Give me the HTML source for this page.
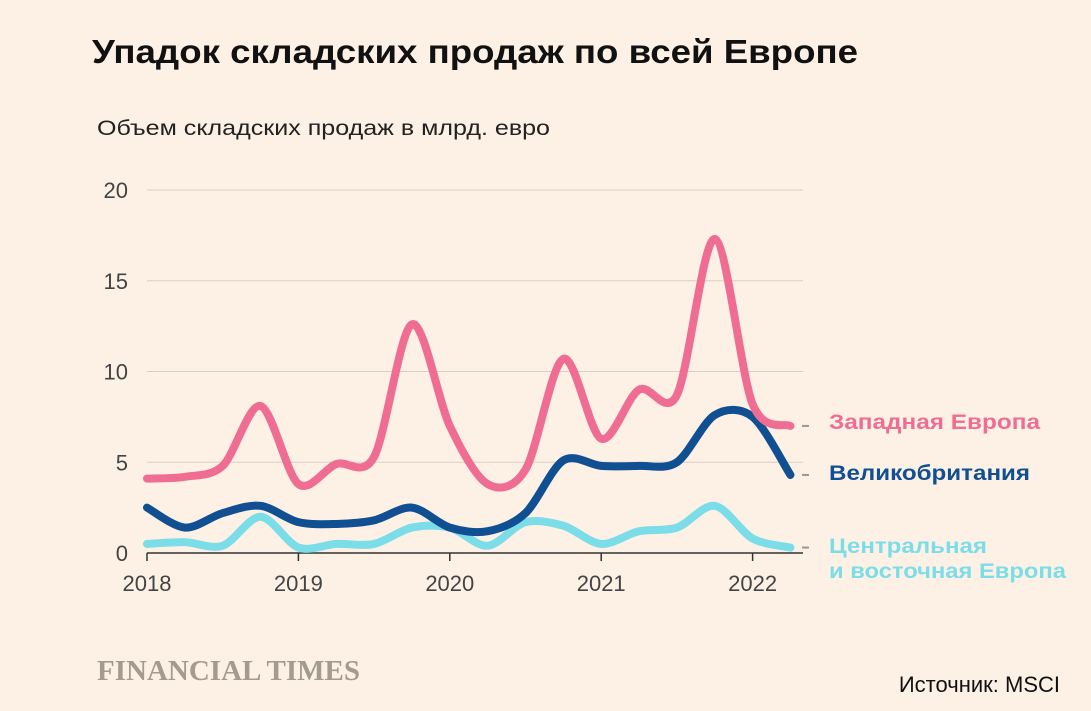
<!DOCTYPE html>
<html><head><meta charset="utf-8"><style>
body{margin:0;background:#fdf1e6;width:1091px;height:706px;overflow:hidden;font-family:"Liberation Sans",sans-serif}
</style></head><body>
<svg width="1091" height="706" viewBox="0 0 1091 706">
<rect width="1091" height="706" fill="#fdf1e6"/>
<text x="92" y="63" font-size="33" font-weight="bold" fill="#111" textLength="766" lengthAdjust="spacingAndGlyphs">Упадок складских продаж по всей Европе</text>
<text x="97" y="135" font-size="21" fill="#222" textLength="453" lengthAdjust="spacingAndGlyphs">Объем складских продаж в млрд. евро</text>
<g id="grid"></g><g id="series"></g>
<text x="97" y="680" font-size="28" font-weight="bold" font-family="Liberation Serif" fill="#a39a90" textLength="263" lengthAdjust="spacingAndGlyphs">FINANCIAL TIMES</text>
<text x="1060" y="692" font-size="22" fill="#111" text-anchor="end">Источник: MSCI</text>
</svg>
<script>
const years=["2018","2019","2020","2021","2022"];
const yTicks=[0,5,10,15,20];
const western=[4.1,4.2,4.8,8.1,3.8,4.9,5.3,12.6,7.0,3.8,4.6,10.7,6.3,9.0,8.7,17.3,8.2,7.0];
const uk=[2.5,1.4,2.2,2.6,1.7,1.6,1.8,2.5,1.4,1.2,2.2,5.1,4.8,4.8,5.0,7.6,7.5,4.3];
const cee=[0.5,0.6,0.4,2.0,0.3,0.5,0.5,1.4,1.4,0.4,1.7,1.5,0.5,1.2,1.4,2.6,0.8,0.3];
const NS="http://www.w3.org/2000/svg";
const X=q=>147+q*37.85, Y=v=>553-v*18.15;
const g=document.getElementById('grid'), s=document.getElementById('series');
function mk(tag,at,par){const e=document.createElementNS(NS,tag);for(const k in at)e.setAttribute(k,at[k]);par.appendChild(e);return e;}
yTicks.forEach(t=>{
 const l=mk('line',{x1:147,x2:803,y1:Y(t),y2:Y(t),stroke:t===0?'#333':'#d8cfc6','stroke-width':t===0?1.5:1},g);
 
 
 const tx=mk('text',{x:128,y:Y(t)+8,'font-size':22,fill:'#444','text-anchor':'end'},g);tx.textContent=t;
 
 
});
years.forEach((y,i)=>{
 const x=X(i*4);
 const l=mk('line',{x1:x,x2:x,y1:553,y2:561,stroke:'#333','stroke-width':1.5},g);
 
 
 const tx=mk('text',{x:x,y:591,'font-size':22,fill:'#444','text-anchor':'middle'},g);tx.textContent=y;
 
 
});
function path(d){const p=d.map((v,i)=>[X(i),Y(v)]);let str='M'+p[0];for(let i=0;i<p.length-1;i++){const p0=p[i-1]||p[i],p1=p[i],p2=p[i+1],p3=p[i+2]||p2;const t=6.5;str+=` C${p1[0]+(p2[0]-p0[0])/t},${p1[1]+(p2[1]-p0[1])/t} ${p2[0]-(p3[0]-p1[0])/t},${p2[1]-(p3[1]-p1[1])/t} ${p2[0]},${p2[1]}`;}return str;}
const ser=[[cee,'#7bdde8','line-central-eastern-europe',['Центральная','и восточная Европа'],[158,237],553],[uk,'#0f4f92','line-uk',['Великобритания'],[201],480],[western,'#ef6d92','line-western-europe',['Западная Европа'],[211],429]];
ser.forEach(([d,c,n,lab,lens,ly])=>{
 const p=mk('path',{d:path(d),fill:'none',stroke:c,'stroke-width':8,'stroke-linecap':'round'},s);
 
 
 const dl=mk('line',{x1:802,x2:809,y1:Y(d[d.length-1]),y2:Y(d[d.length-1]),stroke:'#999','stroke-width':2},s);
 
 
 lab.forEach((t,i)=>{const tx=mk('text',{x:829,y:ly+i*25,'font-size':21,'font-weight':'bold',fill:c,textLength:lens[i],lengthAdjust:'spacingAndGlyphs'},s);tx.textContent=t;
  
  });
});
</script>
</body></html>
